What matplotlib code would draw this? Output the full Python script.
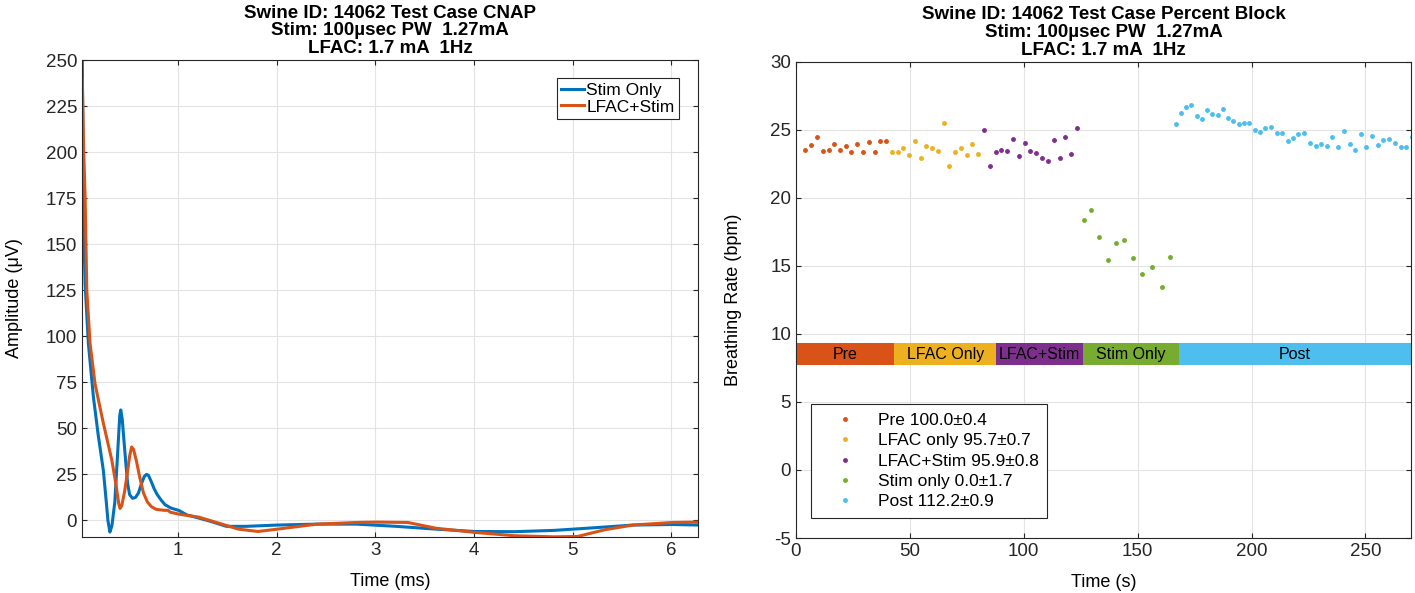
import numpy as np
import matplotlib
matplotlib.use("Agg")
import matplotlib.pyplot as plt

# ---- CNAP traces ----
blue_t = [0.03, 0.042, 0.059, 0.092, 0.143, 0.19, 0.244, 0.27, 0.29, 0.31, 0.33, 0.36, 0.39, 0.41, 0.42,
          0.435, 0.45, 0.47, 0.49, 0.51, 0.54, 0.57, 0.60, 0.63, 0.66, 0.68, 0.70, 0.73, 0.76, 0.79,
          0.83, 0.87, 0.93, 1.01, 1.09, 1.21, 1.33, 1.49, 1.69, 2.01, 2.41,
          2.81, 3.21, 3.61, 4.01, 4.41, 4.81, 5.21, 5.61, 6.01, 6.27]
blue_v = [252, 165, 128, 96, 67, 47, 27, 12, 0, -6.3, -3, 10, 38, 57, 60,
          55, 45, 32, 20, 14, 12, 12.5, 15, 20, 24, 25, 24.5, 21, 17, 14,
          11, 8.5, 6.7, 5.4, 3, 1.3, -0.5, -3.2, -3.2, -2.5, -2,
          -2, -3.2, -4.7, -6, -6.1, -5.4, -4, -2.5, -2.2, -2.5]

orange_t = [0.03, 0.045, 0.059, 0.076, 0.109, 0.16, 0.244, 0.33, 0.37, 0.40, 0.413, 0.43, 0.46, 0.49,
            0.51, 0.53, 0.55, 0.58, 0.61, 0.65, 0.69, 0.73, 0.78, 0.86, 0.90, 0.92, 1.01, 1.21,
            1.41, 1.61, 1.81, 2.01, 2.41, 2.81, 3.01, 3.33, 3.61, 4.01,
            4.41, 4.81, 5.05, 5.33, 5.61, 6.01, 6.27]
orange_v = [240, 200, 175, 125, 96, 74, 52.7, 32.6, 20, 9, 6.5, 8, 16, 27,
            35, 39.9, 38.5, 32, 24, 15, 10, 7.5, 6, 5.5, 5.5, 4.5, 3.4, 1.8,
            -1.4, -4.7, -6, -4.7, -2, -1.1, -0.9, -1.1, -4.2, -6.5,
            -8.3, -8.9, -8.7, -5, -2.5, -1.1, -0.9]

# ---- breathing rate per phase ----
pre_t = [4.1, 6.7, 9.2, 11.7, 14.3, 16.8, 19.3, 21.8, 24.3, 26.9, 29.4, 31.9, 34.5, 37.0, 39.5]
pre_v = [23.49, 23.85, 24.46, 23.46, 23.54, 23.95, 23.51, 23.78, 23.39, 23.98, 23.34, 24.07, 23.34, 24.17, 24.15]

lfac_t = [42.1, 44.6, 47.1, 49.6, 52.2, 54.7, 57.2, 59.8, 62.3, 64.8, 67.4, 69.9, 72.4, 75.0, 77.5, 80.1]
lfac_v = [23.34, 23.34, 23.63, 23.17, 24.15, 22.90, 23.83, 23.63, 23.46, 25.49, 22.34, 23.34, 23.66, 23.17, 23.98, 23.24]

ls_t = [82.5, 85.1, 87.7, 90.2, 92.8, 95.3, 97.8, 100.4, 102.9, 105.4, 108.0, 110.5, 113.2, 115.8, 118.3, 120.8, 123.2]
ls_v = [25.0, 22.32, 23.34, 23.54, 23.46, 24.34, 23.05, 24.02, 23.44, 23.29, 22.95, 22.73, 24.24, 22.93, 24.49, 23.22, 25.12]

stim_t = [126.5, 129.5, 133.0, 137.0, 140.5, 144.0, 147.8, 152.0, 156.1, 160.5, 164.3]
stim_v = [18.34, 19.07, 17.15, 15.44, 16.71, 16.90, 15.56, 14.39, 14.88, 13.44, 15.66]

post_t = [166.8, 169.0, 171.2, 173.5, 175.9, 178.2, 180.4, 182.7, 185.1, 187.3, 189.6, 192.0, 194.3, 196.6,
          199.0, 201.3, 203.8, 206.1, 208.5, 211.0, 213.3, 215.8, 218.3, 220.6, 223.1, 225.6, 228.1,
          230.6, 233.1, 235.5, 238.0, 240.5, 243.0, 245.5, 248.0, 250.4, 252.9, 255.4, 257.9, 260.4,
          262.9, 265.4, 267.8, 270.3]
post_v = [25.41, 26.24, 26.66, 26.83, 25.98, 25.76, 26.44, 26.17, 26.10, 26.49, 25.88, 25.63, 25.41, 25.46,
          25.49, 24.95, 24.80, 25.10, 25.20, 24.78, 24.76, 24.17, 24.39, 24.66, 24.76, 24.02, 23.83,
          23.98, 23.83, 24.46, 23.73, 24.93, 23.93, 23.51, 24.71, 23.73, 24.51, 23.85, 24.24, 24.29,
          24.00, 23.76, 23.73, 24.44]

legend_labels = ["Pre 100.0\u00b10.4", "LFAC only 95.7\u00b10.7", "LFAC+Stim 95.9\u00b10.8",
                 "Stim only 0.0\u00b11.7", "Post 112.2\u00b10.9"]
bar_names = ["Pre", "LFAC Only", "LFAC+Stim", "Stim Only", "Post"]
bar_start = [0.5, 43, 88, 126, 168]
bar_end = [43, 88, 126, 168, 270]

colors = ["#D95319", "#EDB120", "#7E2F8E", "#77AC30", "#4DBEEE"]

plt.rcParams['font.family'] = ['Liberation Sans', 'DejaVu Sans']
plt.rcParams['font.size'] = 12.5
plt.rcParams['axes.unicode_minus'] = False
plt.rcParams['axes.edgecolor'] = '#262626'
plt.rcParams['xtick.direction'] = 'in'
plt.rcParams['ytick.direction'] = 'in'
plt.rcParams['xtick.top'] = True
plt.rcParams['ytick.right'] = True
plt.rcParams['xtick.color'] = '#262626'
plt.rcParams['ytick.color'] = '#262626'
plt.rcParams['xtick.labelsize'] = 13.5
plt.rcParams['ytick.labelsize'] = 13.5

fig = plt.figure(figsize=(14.15, 5.93), dpi=100)
ax1 = fig.add_axes([0.058, 0.0944, 0.4353, 0.8044])
ax2 = fig.add_axes([0.5625, 0.0927, 0.4347, 0.8033])

title_l = "Swine ID: 14062 Test Case CNAP\nStim: 100\u00b5sec PW  1.27mA\nLFAC: 1.7 mA  1Hz"
title_r = "Swine ID: 14062 Test Case Percent Block\nStim: 100\u00b5sec PW  1.27mA\nLFAC: 1.7 mA  1Hz"

# left: CNAP
ax1.plot(blue_t, blue_v, color="#0072BD", lw=2.2, label="Stim Only")
ax1.plot(orange_t, orange_v, color="#D95319", lw=2.2, label="LFAC+Stim")
ax1.set_xlim(0.028, 6.27)
ax1.set_ylim(-9, 250)
ax1.set_xticks([1, 2, 3, 4, 5, 6])
ax1.set_yticks(np.arange(0, 251, 25))
ax1.grid(True, color='#e3e3e3', lw=0.8)
ax1.set_axisbelow(True)
ax1.set_xlabel("Time (ms)", labelpad=10, fontsize=13)
ax1.set_ylabel("Amplitude (\u03bcV)", labelpad=16, fontsize=13)
ax1.set_title(title_l, fontweight='bold', fontsize=13.5, linespacing=1.05, pad=5)
leg1 = ax1.legend(loc='upper right', bbox_to_anchor=(0.969, 0.962), handlelength=1.3,
                  handletextpad=0.15, borderpad=0.25, labelspacing=0.1, fancybox=False,
                  edgecolor='#262626', framealpha=1, borderaxespad=0)
leg1.get_frame().set_linewidth(0.8)

# right: breathing rate
groups = [(pre_t, pre_v), (lfac_t, lfac_v), (ls_t, ls_v), (stim_t, stim_v), (post_t, post_v)]
for (t, v), c, lab in zip(groups, colors, legend_labels):
    ax2.plot(t, v, '.', color=c, markersize=5, label=lab)

for s, e, c, name in zip(bar_start, bar_end, colors, bar_names):
    ax2.barh(8.5, e - s, left=s, height=1.6, color=c, edgecolor='none', zorder=2)
    ax2.text((s + e) / 2, 8.5, name, ha='center', va='center', fontsize=11.5, zorder=3)

ax2.set_xlim(0, 270)
ax2.set_ylim(-5, 30)
ax2.set_xticks([0, 50, 100, 150, 200, 250])
ax2.set_yticks(np.arange(-5, 31, 5))
ax2.grid(True, color='#e3e3e3', lw=0.8)
ax2.set_axisbelow(True)
ax2.set_xlabel("Time (s)", labelpad=10, fontsize=13)
ax2.set_ylabel("Breathing Rate (bpm)", labelpad=20, fontsize=13)
ax2.set_title(title_r, fontweight='bold', fontsize=13.5, linespacing=1.05, pad=5)
leg2 = ax2.legend(loc='upper left', bbox_to_anchor=(0.024, 0.281), handlelength=2.9,
                  handletextpad=0.45, borderpad=0.5, labelspacing=0.3, fancybox=False,
                  edgecolor='#262626', framealpha=1, borderaxespad=0, markerscale=1.0)
leg2.get_frame().set_linewidth(0.8)

for ax in (ax1, ax2):
    for sp in ax.spines.values():
        sp.set_linewidth(0.8)

fig.savefig("out.png", dpi=100)
